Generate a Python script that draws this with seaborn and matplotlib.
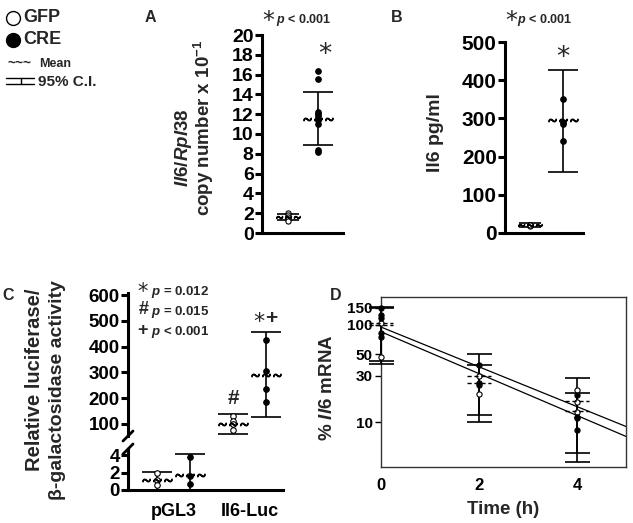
import numpy as np
import pandas as pd
import matplotlib
matplotlib.use("Agg")
import matplotlib.pyplot as plt
import seaborn as sns
from matplotlib.lines import Line2D

# ---------------- data ----------------
# Panel A: Il6/Rpl38 copy number x 10^-1
A_gfp = [2.0, 1.8, 1.6, 1.4, 1.2]
A_cre = [16.4, 15.6, 12.2, 12.0, 11.8, 11.4, 11.0, 8.4, 8.2]
A_mean = [1.65, 11.5]
A_lo = [1.35, 8.9]
A_hi = [1.9, 14.2]

# Panel B: Il6 pg/ml
B_gfp = [20, 21, 19, 20]
B_cre = [350, 290, 285, 240]
B_mean = [20, 295]
B_lo = [15, 160]
B_hi = [25, 428]

# Panel C: relative luciferase / beta-gal activity
C_groups = ["pGL3", "Il6-Luc"]
C_gfp = [[2.0, 1.2, 0.6], [130, 112, 98, 75]]
C_cre = [[3.8, 1.6, 0.7], [425, 305, 235, 185]]
C_gfp_mean = [1.1, 100]
C_gfp_lo = [0.05, 62]
C_gfp_hi = [2.1, 140]
C_cre_mean = [1.7, 290]
C_cre_lo = [-0.5, 125]
C_cre_hi = [4.1, 455]

# Panel D: % Il6 mRNA over time
D_time = [0, 2, 4]
D_gfp = [[105, 47], [30, 19.8], [21.7, 16.4, 12.7]]
D_cre = [[150, 126, 118, 83, 75], [39, 25.6, 24.5], [19.3, 11.5, 11.0, 8.3]]
D_gfp_mean = [100, 30, 16.5]
D_cre_mean = [105, 25.5, 13]
D_gfp_lo = [40, 10, 4.9]
D_gfp_hi = [150, 50, 28.8]
D_cre_lo = [43, 12, 3.9]
D_cre_hi = [152, 39, 20.2]
D_fit_t = [0, 5]
D_fit_gfp = [95, 9.1]
D_fit_cre = [85, 7.2]

# ---------------- style ----------------
sns.set_theme(style="ticks")
plt.rcParams['font.family'] = ['Liberation Sans', 'DejaVu Sans']
plt.rcParams['font.weight'] = 'bold'
plt.rcParams['axes.labelweight'] = 'bold'
plt.rcParams['mathtext.fontset'] = 'custom'
plt.rcParams['mathtext.rm'] = 'Liberation Sans:bold'
plt.rcParams['mathtext.it'] = 'Liberation Sans:bold:italic'
plt.rcParams['mathtext.bf'] = 'Liberation Sans:bold'
plt.rcParams['axes.edgecolor'] = 'black'
plt.rcParams['xtick.color'] = 'black'
plt.rcParams['ytick.color'] = 'black'

W, H = 633, 523
fig = plt.figure(figsize=(W / 100, H / 100), dpi=100)


def rect(l, t, r, b):
    return [l / W, 1 - b / H, (r - l) / W, (b - t) / H]


def ft(x, y, s, **kw):
    fig.text(x / W, 1 - y / H, s, **kw)


MEAN_MK = r'$\sim\!\sim\!\sim$'


def draw_group(ax, x, pts, mean, lo, hi, filled, capsize=11, s=16, mean_ms=21,
               mean_style='tilde', clip=True):
    df = pd.DataFrame({'x': np.full(len(pts), x, dtype=float), 'y': pts})
    sns.scatterplot(data=df, x='x', y='y', ax=ax, s=s,
                    color='black' if filled else 'white', edgecolor='black',
                    linewidth=0.8, zorder=4, legend=False, clip_on=clip)
    eb = ax.errorbar([x], [mean], yerr=[[mean - lo], [hi - mean]], fmt='none',
                     ecolor='black', elinewidth=1.2, capsize=capsize,
                     capthick=1.2, zorder=3)
    for art in eb.get_children():
        art.set_clip_on(clip)
    if mean_style == 'tilde':
        ax.plot([x], [mean], marker=MEAN_MK, ms=mean_ms, color='black',
                ls='none', zorder=5, clip_on=clip)
    ax.set_xlabel('')
    ax.set_ylabel('')


def style_axes(ax, lw=2.2, labelsize=14):
    sns.despine(ax=ax)
    for sp in ['left', 'bottom']:
        ax.spines[sp].set_linewidth(lw)
    ax.tick_params(axis='y', labelsize=labelsize, width=lw, length=5, pad=1)
    ax.set_xticks([])
    ax.grid(False)


# ---------------- legend (top left) ----------------
fig.add_artist(Line2D([13 / W], [1 - 18 / H], marker='o', ms=10, mfc='white',
                      mec='black', mew=1, transform=fig.transFigure))
ft(23, 18, "GFP", fontsize=13, va='center')
fig.add_artist(Line2D([13 / W], [1 - 40 / H], marker='o', ms=10, mfc='black',
                      mec='black', transform=fig.transFigure))
ft(23, 40, "CRE", fontsize=13, va='center')
ft(19, 63, "~~~", fontsize=10, va='center', ha='center')
ft(39, 64, "Mean", fontsize=9, va='center')
for yy in (78, 84):
    fig.add_artist(Line2D([6 / W, 34 / W], [1 - yy / H, 1 - yy / H], lw=1,
                          color='black', transform=fig.transFigure))
fig.add_artist(Line2D([21 / W, 21 / W], [1 - 78 / H, 1 - 84 / H], lw=1,
                      color='black', transform=fig.transFigure))
ft(38, 82, "95% C.I.", fontsize=11, va='center')

# ---------------- Panel A ----------------
axA = fig.add_axes(rect(262, 35, 343, 233))
draw_group(axA, 0, A_gfp, A_mean[0], A_lo[0], A_hi[0], False, capsize=8, s=14, mean_ms=17)
draw_group(axA, 1, A_cre, A_mean[1], A_lo[1], A_hi[1], True, capsize=11)
axA.set_ylim(0, 20)
axA.set_yticks(np.arange(0, 21, 2))
axA.set_xlim(-0.87, 1.83)
style_axes(axA)
ft(150, 18, "A", fontsize=11.5, ha='center', va='center')
ft(183, 148, r"$\it{Il6/Rpl38}$", fontsize=13.5, rotation=90, ha='center', va='center')
ft(204, 128, r"copy number x 10$^{-1}$", fontsize=13.5, rotation=90, ha='center', va='center')
ft(268, 21, "*", fontsize=17, family='DejaVu Sans', weight='normal', ha='center', va='center')
ft(276, 20, r"$\it{p}$ < 0.001", fontsize=9, ha='left', va='center')
ft(325, 55, "*", fontsize=19, family='DejaVu Sans', weight='normal', ha='center', va='center')

# ---------------- Panel B ----------------
axB = fig.add_axes(rect(505, 42, 583, 233))
draw_group(axB, 0, B_gfp, B_mean[0], B_lo[0], B_hi[0], False, capsize=8, s=14, mean_ms=17)
draw_group(axB, 1, B_cre, B_mean[1], B_lo[1], B_hi[1], True, capsize=11)
axB.set_ylim(0, 500)
axB.set_yticks(np.arange(0, 501, 100))
axB.set_xlim(-0.76, 1.6)
style_axes(axB, labelsize=15)
ft(397, 18, "B", fontsize=11.5, ha='center', va='center')
ft(436, 133, "Il6 pg/ml", fontsize=14, rotation=90, ha='center', va='center')
ft(511, 21, "*", fontsize=17, family='DejaVu Sans', weight='normal', ha='center', va='center')
ft(517, 20, r"$\it{p}$ < 0.001", fontsize=9, ha='left', va='center')
ft(563, 58, "*", fontsize=19, family='DejaVu Sans', weight='normal', ha='center', va='center')

# ---------------- Panel C ----------------
axCt = fig.add_axes(rect(128, 293, 283, 436))
axCb = fig.add_axes(rect(128, 449, 283, 490))
off = 0.217
for ax in (axCt, axCb):
    for i in range(len(C_groups)):
        draw_group(ax, i - off, C_gfp[i], C_gfp_mean[i], C_gfp_lo[i], C_gfp_hi[i],
                   False, capsize=11)
        draw_group(ax, i + off, C_cre[i], C_cre_mean[i], C_cre_lo[i], C_cre_hi[i],
                   True, capsize=11)
    ax.set_xlim(-0.6, 1.44)
axCt.set_ylim(53, 608)
axCt.set_yticks(np.arange(100, 601, 100))
axCb.set_ylim(0, 4.69)
axCb.set_yticks([0, 2, 4])
style_axes(axCt, labelsize=13.5)
style_axes(axCb, labelsize=13.5)
axCt.spines['bottom'].set_visible(False)
axCb.set_xticks(range(len(C_groups)))
axCb.set_xticklabels(C_groups, fontsize=13)
axCb.tick_params(axis='x', length=0, pad=9)
# axis break marks
for yb in (436, 449):
    fig.add_artist(Line2D([123 / W, 133 / W], [1 - (yb + 5) / H, 1 - (yb - 5) / H],
                          lw=2, color='black', transform=fig.transFigure))
ft(8, 296, "C", fontsize=11.5, ha='center', va='center')
ft(35, 380, "Relative luciferase/", fontsize=14.5, rotation=90, ha='center', va='center')
ft(58, 390, "β-galactosidase activity", fontsize=14, rotation=90, ha='center', va='center')
ft(143, 292, "*", fontsize=15, family='DejaVu Sans', weight='normal', ha='center', va='center')
ft(151, 292, r"$\it{p}$ = 0.012", fontsize=9.5, ha='left', va='center')
ft(144, 310, "#", fontsize=13, ha='center', va='center')
ft(151, 312, r"$\it{p}$ = 0.015", fontsize=9.5, ha='left', va='center')
ft(143, 330, "+", fontsize=13, ha='center', va='center')
ft(151, 332, r"$\it{p}$ < 0.001", fontsize=9.5, ha='left', va='center')
ft(233, 398, "#", fontsize=15, ha='center', va='center')
ft(259, 322, "*", fontsize=16, family='DejaVu Sans', weight='normal', ha='center', va='center')
ft(271, 318, "+", fontsize=15, ha='center', va='center')

# ---------------- Panel D ----------------
axD = fig.add_axes(rect(381, 297, 626, 467))
axD.set_yscale('log')
for i, t in enumerate(D_time):
    draw_group(axD, t, D_gfp[i], D_gfp_mean[i], D_gfp_lo[i], D_gfp_hi[i], False,
               capsize=9, s=14, mean_style='none', clip=False)
    draw_group(axD, t, D_cre[i], D_cre_mean[i], D_cre_lo[i], D_cre_hi[i], True,
               capsize=9, s=14, mean_style='none', clip=False)
    for m in (D_gfp_mean[i], D_cre_mean[i]):
        axD.plot([t - 0.24, t + 0.24], [m, m], ls=(0, (3, 2)), lw=1, color='black',
                 zorder=5, clip_on=False)
fit_df = pd.DataFrame({'t': D_fit_t * 2, 'y': D_fit_gfp + D_fit_cre,
                       'g': ['GFP'] * 2 + ['CRE'] * 2})
sns.lineplot(data=fit_df, x='t', y='y', units='g', estimator=None, ax=axD,
             color='black', lw=0.9, legend=False)
axD.set_xlim(0, 5)
axD.set_ylim(3.5, 193)
axD.set_yticks([10, 30, 50, 100, 150])
axD.set_yticklabels(['10', '30', '50', '100', '150'])
axD.yaxis.set_minor_locator(matplotlib.ticker.NullLocator())
axD.set_xticks(D_time)
axD.set_xticklabels([str(t) for t in D_time])
axD.grid(False)
for sp in axD.spines.values():
    sp.set_linewidth(1)
    sp.set_color('#333333')
axD.tick_params(axis='y', labelsize=11, length=4, width=1, pad=2)
axD.tick_params(axis='x', labelsize=12, length=0, pad=8)
axD.set_xlabel("Time (h)", fontsize=13.5, fontweight='bold', labelpad=6)
axD.set_ylabel("")
ft(336, 296, "D", fontsize=11.5, ha='center', va='center')
ft(328, 388, r"% $\it{Il6}$ mRNA", fontsize=13.5, rotation=90, ha='center', va='center')

fig.savefig("out.png", dpi=100)
